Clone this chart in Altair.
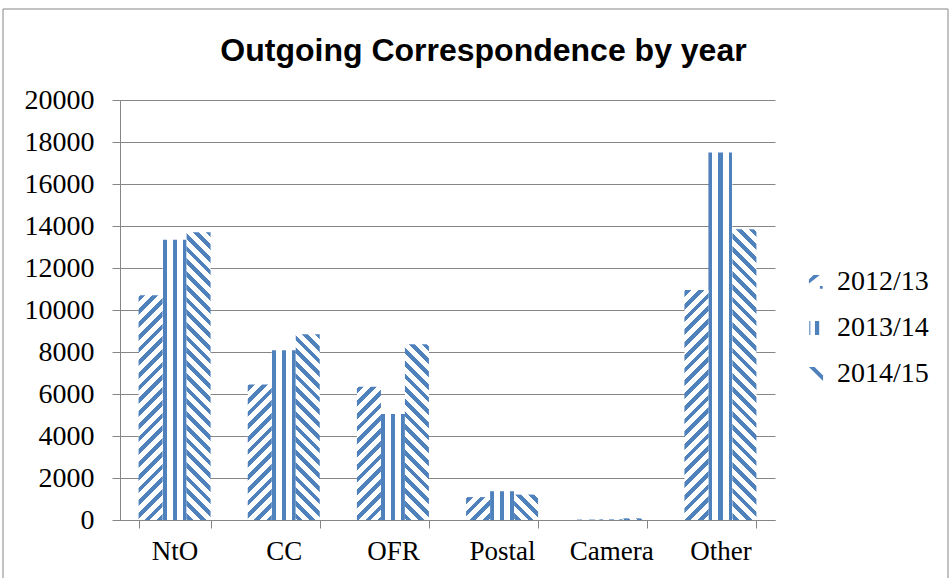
import math
import altair as alt
import pandas as pd

# ---------------- data ----------------
categories = ["NtO", "CC", "OFR", "Postal", "Camera", "Other"]
series = ["2012/13", "2013/14", "2014/15"]
values_2012 = [10700, 6450, 6340, 1090, 20, 10950]
values_2013 = [13350, 8080, 5050, 1370, 30, 17500]
values_2014 = [13700, 8850, 8370, 1210, 80, 13850]
y_ticks = [0, 2000, 4000, 6000, 8000, 10000, 12000, 14000, 16000, 18000, 20000]
title_text = "Outgoing Correspondence by year"

rows = []
for s, vals in zip(series, [values_2012, values_2013, values_2014]):
    for c, v in zip(categories, vals):
        rows.append({"category": c, "series": s, "value": v})
df = pd.DataFrame(rows)

# ---------------- styling ----------------
BLUE = "#4F81BD"
WHITE = "#FFFFFF"
GRAY = "#868686"
SERIF = "Liberation Serif"
SANS = "Liberation Sans"
W, H = 655, 420
YMAX = 20000
STEP = W / len(categories)
PAD_INNER = 1 - 72 / STEP
BAR_W = STEP * (1 - PAD_INNER) / 3
STRIPE_PERIOD = 9.0   # px, perpendicular to the stripes
BLUE_FRAC = 0.45


def interval_stops(intervals):
    """Blue intervals (in gradient offset units) on white."""
    stops = [{"offset": 0, "color": WHITE}]
    for a, b in intervals:
        a = max(0.0, min(1.0, a))
        b = max(0.0, min(1.0, b))
        if b <= a:
            continue
        stops += [
            {"offset": round(a, 4), "color": WHITE},
            {"offset": round(a, 4), "color": BLUE},
            {"offset": round(b, 4), "color": BLUE},
            {"offset": round(b, 4), "color": WHITE},
        ]
    stops.append({"offset": 1, "color": WHITE})
    return stops


def diagonal_gradient(value, direction):
    h = max(value / YMAX * H, 0.5)
    r = h / BAR_W
    s = (1 + r) / (1 + r * r)
    span = (BAR_W + h) / math.sqrt(2)
    P = STRIPE_PERIOD / span
    intervals = []
    k = 0
    while k * P < 1:
        intervals.append((k * P + 0.1 * P, k * P + 0.1 * P + BLUE_FRAC * P))
        k += 1
    stops = interval_stops(intervals)
    if direction == "up":   # "/" stripes
        return {"gradient": "linear", "x1": 0, "y1": 0, "x2": round(s, 5),
                "y2": round(s * r, 5), "stops": stops}
    # "\" stripes
    return {"gradient": "linear", "x1": 0, "y1": 1, "x2": round(s, 5),
            "y2": round(1 - s * r, 5), "stops": stops}


vertical_gradient = {
    "gradient": "linear", "x1": 0, "y1": 0, "x2": 1, "y2": 0,
    "stops": interval_stops([(0, 0.17), (0.42, 0.6), (0.84, 1.0)]),
}

x_enc = alt.X(
    "category:N", sort=categories,
    scale=alt.Scale(domain=categories, paddingInner=PAD_INNER, paddingOuter=PAD_INNER / 2),
    axis=alt.Axis(title=None, labelAngle=0, tickBand="extent", tickSize=8,
                  labelPadding=10, labelFont=SERIF, labelFontSize=27,
                  labelColor="black", domainColor=GRAY, tickColor=GRAY, grid=False),
)
xo_enc = alt.XOffset("series:N", scale=alt.Scale(domain=series, paddingInner=0, paddingOuter=0))
y_enc = alt.Y(
    "value:Q",
    scale=alt.Scale(domain=[0, YMAX], nice=False),
    axis=alt.Axis(title=None, values=y_ticks, format="d", tickSize=8, labelPadding=18,
                  labelFont=SERIF, labelFontSize=28, labelColor="black",
                  domainColor=GRAY, tickColor=GRAY, gridColor=GRAY, grid=True),
)

base = alt.Chart(df)

# outer frame of the chart
frame = alt.Chart(alt.Data(values=[{"frame": 1}])).mark_rect(
    fillOpacity=0, stroke=GRAY, strokeWidth=1
).encode(x=alt.value(-117), x2=alt.value(828), y=alt.value(-91), y2=alt.value(500))

legend_paths = [
    "M-1,0.2 L-1,-0.35 L-0.35,-1 L0.55,-1 Z M0.55,0.55 L0.95,0.55 L0.95,0.95 L0.55,0.95 Z",
    "M-0.95,-1 L-0.8,-1 L-0.8,1 L-0.95,1 Z M-0.15,-1 L0.45,-1 L0.45,1 L-0.15,1 Z",
    "M-1,-1 L-0.2,-1 L1,0.2 L1,1 Z",
]

legend_layer = base.mark_point(filled=True, opacity=0, color=BLUE, size=10).encode(
    x=x_enc, xOffset=xo_enc, y=y_enc,
    shape=alt.Shape(
        "series:N",
        scale=alt.Scale(domain=series, range=legend_paths),
        legend=alt.Legend(
            title=None, orient="none", legendX=682, legendY=168, padding=0,
            symbolOpacity=1, symbolSize=200, symbolFillColor=BLUE, symbolStrokeWidth=0,
            labelFont=SERIF, labelFontSize=28, labelColor="black", labelOffset=7,
            rowPadding=18, labelLimit=300,
        ),
    ),
)

layers = [frame, legend_layer]

layers.append(
    base.transform_filter(alt.datum.series == series[1])
    .mark_bar(fill=vertical_gradient)
    .encode(x=x_enc, xOffset=xo_enc, y=y_enc)
)

for s, vals, direction in [(series[0], values_2012, "up"), (series[2], values_2014, "down")]:
    for c, v in zip(categories, vals):
        layers.append(
            base.transform_filter((alt.datum.series == s) & (alt.datum.category == c))
            .mark_bar(fill=diagonal_gradient(v, direction))
            .encode(x=x_enc, xOffset=xo_enc, y=y_enc)
        )

chart = alt.layer(*layers).properties(
    width=W, height=H,
    title=alt.Title(title_text, font=SANS, fontSize=32, fontWeight="bold", color="black",
                    anchor="middle", dx=36, dy=84, baseline="alphabetic", offset=0),
    autosize=alt.AutoSizeParams(type="none"),
    padding={"left": 120, "top": 100, "right": 177, "bottom": 58},
).configure_view(stroke=None).configure_axis(domainWidth=1, tickWidth=1, gridWidth=1)

chart.save("out.html", embed_options={"renderer": "svg", "actions": False})
